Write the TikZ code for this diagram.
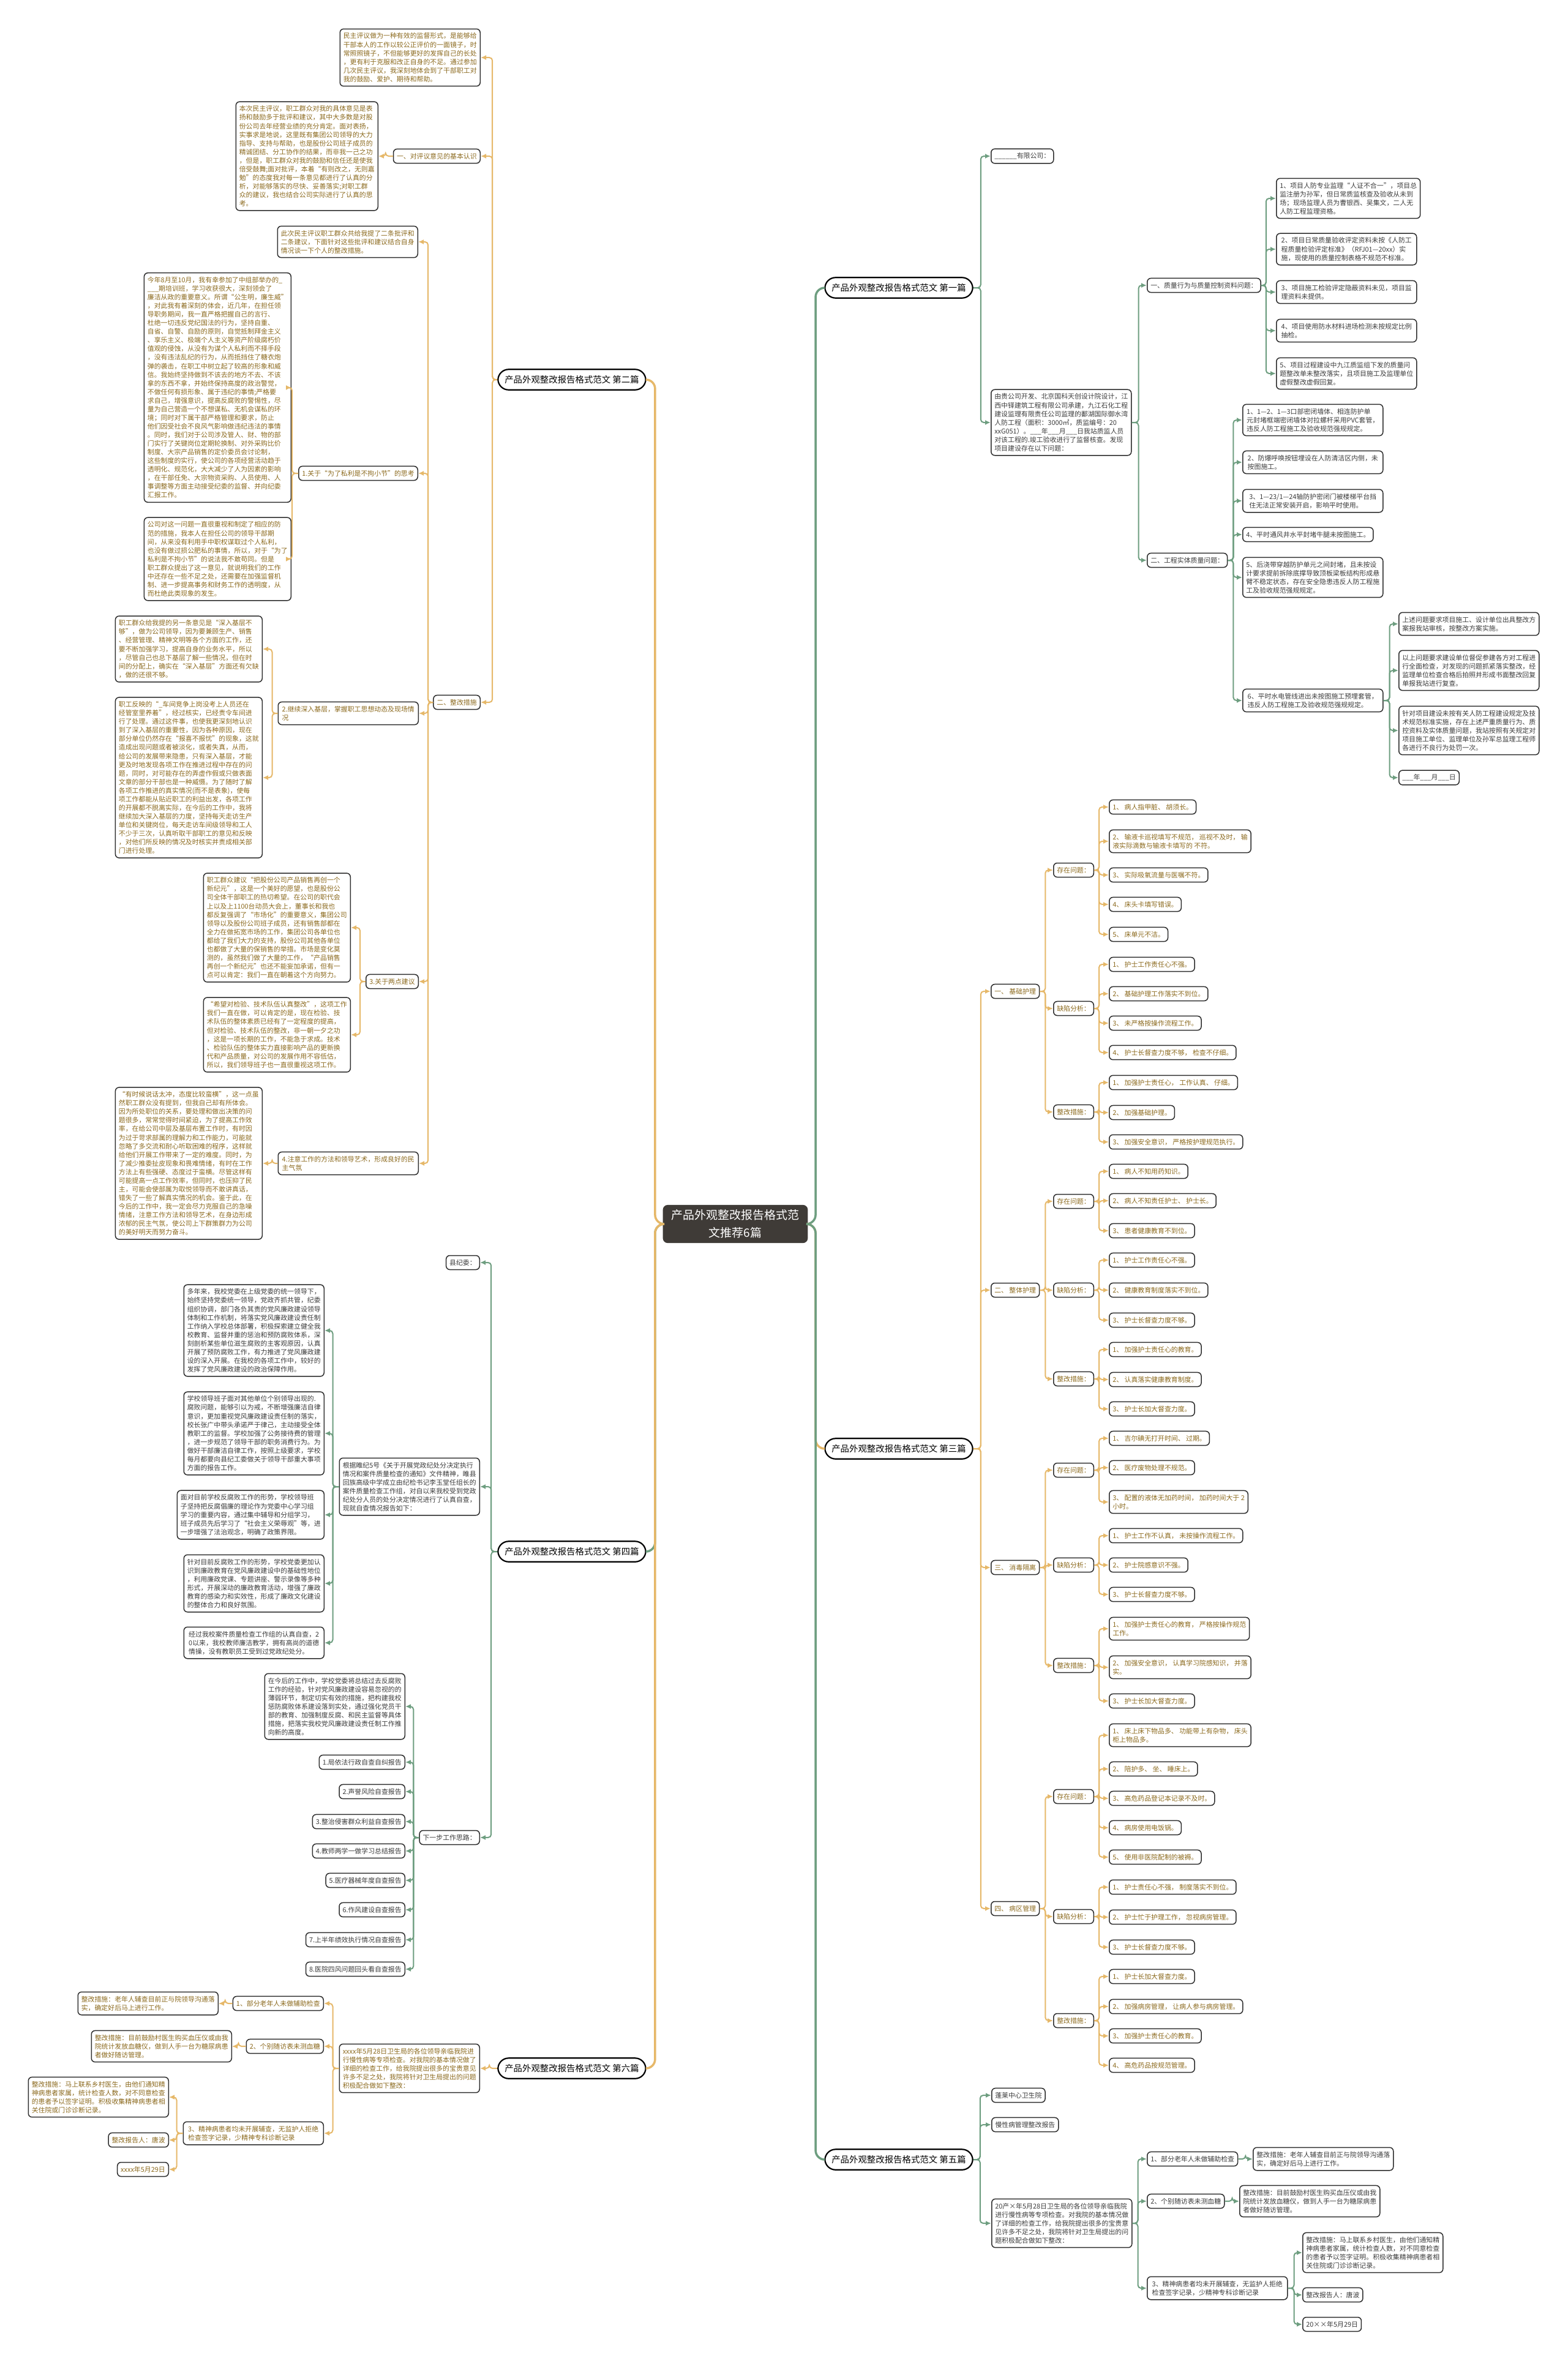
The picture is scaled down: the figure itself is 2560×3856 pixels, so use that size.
\documentclass[tikz,border=0pt]{standalone}
\usepackage{fontspec}
\setmainfont{Noto Sans CJK SC}
\usetikzlibrary{arrows.meta}
\definecolor{goldline}{HTML}{E6B869}
\definecolor{greenline}{HTML}{6E9E80}
\definecolor{goldtext}{HTML}{8C6A1E}
\definecolor{darktext}{HTML}{3C3C3C}
\definecolor{boxline}{HTML}{2E2E2E}
\definecolor{hubfill}{HTML}{3F3B37}
\newcommand\bodyfont{\fontsize{3.1pt}{4pt}\selectfont}
% parent -> child, tree growing to the left / to the right
\newcommand\linkl[4]{\draw[#1] (#2.west) -- ++(-#3,0) |- (#4.east);}
\newcommand\linkr[4]{\draw[#1] (#2.east) -- ++(#3,0) |- (#4.west);}

\begin{document}
\begin{tikzpicture}[x=0.1mm, y=-0.1mm,
    box/.style={draw=boxline, line width=0.15mm, fill=white, rounded corners=0.6mm, inner xsep=0.55mm, inner ysep=0.65mm, font=\bodyfont, align=left},
    para/.style={box, minimum width=22.9mm},
    tg/.style={text=goldtext},
    tk/.style={text=darktext},
    pill/.style={draw=black, line width=0.22mm, fill=white, rounded corners=1.75mm, inner xsep=1.1mm, inner ysep=1mm, font=\fontsize{4.1pt}{5pt}\selectfont},
    hub/.style={fill=hubfill, rounded corners=0.8mm, text=white, align=center, inner xsep=1.4mm, inner ysep=0.8mm, font=\fontsize{5.4pt}{8.2pt}\selectfont},
    gl/.style={draw=goldline, line width=0.2mm, rounded corners=0.5mm, -{Latex[length=0.9mm,width=0.8mm]}},
    kl/.style={draw=greenline, line width=0.2mm, rounded corners=0.5mm, -{Latex[length=0.9mm,width=0.8mm]}},
    gc/.style={draw=goldline, line width=0.35mm, rounded corners=1.5mm},
    kc/.style={draw=greenline, line width=0.35mm, rounded corners=1.5mm}]
  \fill[white] (0,0) rectangle (2560,3856);
  \useasboundingbox (0,0) rectangle (2560,3856);

  \node[hub] (hub) at (1201,1999) {产品外观整改报告格式范\\文推荐6篇};

  % ---- 第二篇 ----
  \node[pill] (p2) at (934,620) {产品外观整改报告格式范文 第二篇};
  \node[para,tg,anchor=east] (a1) at (785,94) {民主评议做为一种有效的监督形式，是能够给\\干部本人的工作以较公正评价的一面镜子，时\\常照照镜子，不但能够更好的发挥自己的长处\\，更有利于克服和改正自身的不足。通过参加\\几次民主评议，我深刻地体会到了干部职工对\\我的鼓励、爱护、期待和帮助。};
  \node[box,tg,anchor=east] (a2) at (785,255) {一、对评议意见的基本认识};
  \node[para,tg,anchor=east] (a21) at (618,255) {本次民主评议，职工群众对我的具体意见是表\\扬和鼓励多于批评和建议，其中大多数是对股\\份公司去年经营业绩的充分肯定。面对表扬，\\实事求是地说，这里既有集团公司领导的大力\\指导、支持与帮助，也是股份公司班子成员的\\精诚团结、分工协作的结果，而非我一己之功\\，但是，职工群众对我的鼓励和信任还是使我\\倍受鼓舞;面对批评，本着“有则改之，无则嘉\\勉”的态度我对每一条意见都进行了认真的分\\析，对能够落实的尽快、妥善落实;对职工群\\众的建议，我也结合公司实际进行了认真的思\\考。};
  \node[box,tg,anchor=east] (a3) at (785,1147) {二、整改措施};
  \node[para,tg,anchor=east] (a31) at (683,395) {此次民主评议职工群众共给我提了二条批评和\\二条建议，下面针对这些批评和建议结合自身\\情况谈一下个人的整改措施。};
  \node[box,tg,anchor=east] (a32) at (683,773) {1.关于“为了私利是不拘小节”的思考};
  \node[para,tg,anchor=east] (a321) at (476,633) {今年8月至10月，我有幸参加了中组部举办的\_\\\_\_\_期培训班，学习收获很大，深刻领会了\\廉洁从政的重要意义。所谓“公生明，廉生威”\\，对此我有着深刻的体会，近几年，在担任领\\导职务期间，我一直严格把握自己的言行、\\杜绝一切违反党纪国法的行为，坚持自重、\\自省、自警、自励的原则，自觉抵制拜金主义\\、享乐主义、极端个人主义等资产阶级腐朽价\\值观的侵蚀，从没有为谋个人私利而不择手段\\，没有违法乱纪的行为，从而抵挡住了糖衣炮\\弹的袭击，在职工中树立起了较高的形象和威\\信。我始终坚持做到不该去的地方不去、不该\\拿的东西不拿，并始终保持高度的政治警觉，\\不做任何有损形象、属于违纪的事情;严格要\\求自己，增强意识，提高反腐败的警惕性，尽\\量为自己营造一个不想谋私、无机会谋私的环\\境；同时对下属干部严格管理和要求，防止\\他们因受社会不良风气影响做违纪违法的事情\\。同时，我们对于公司涉及管人、财、物的部\\门实行了关键岗位定期轮换制、对外采购比价\\制度、大宗产品销售的定价委员会讨论制，\\这些制度的实行，使公司的各项经营活动趋于\\透明化、规范化，大大减少了人为因素的影响\\，在干部任免、大宗物资采购、人员使用、人\\事调整等方面主动接受纪委的监督、并向纪委\\汇报工作。};
  \node[para,tg,anchor=east] (a322) at (476,913) {公司对这一问题一直很重视和制定了相应的防\\范的措施，我本人在担任公司的领导干部期\\间，从来没有利用手中职权谋取过个人私利，\\也没有做过损公肥私的事情，所以，对于“为了\\私利是不拘小节”的说法我不敢苟同。但是\\职工群众提出了这一意见，就说明我们的工作\\中还存在一些不足之处，还需要在加强监督机\\制、进一步提高事务和财务工作的透明度，从\\而杜绝此类现象的发生。};
  \node[para,tg,anchor=east] (a33) at (684,1165) {2.继续深入基层，掌握职工思想动态及现场情\\况};
  \node[para,tg,anchor=east] (a331) at (429,1060) {职工群众给我提的另一条意见是“深入基层不\\够”，做为公司领导，因为要兼顾生产、销售\\、经营管理、精神文明等各个方面的工作，还\\要不断加强学习，提高自身的业务水平，所以\\，尽管自己也总下基层了解一些情况，但在时\\间的分配上，确实在“深入基层”方面还有欠缺\\，做的还很不够。};
  \node[para,tg,anchor=east] (a332) at (429,1270) {职工反映的“\_车间竞争上岗没考上人员还在\\经管室里养着”，经过核实，已经责令车间进\\行了处理。通过这件事，也使我更深刻地认识\\到了深入基层的重要性，因为各种原因，现在\\部分单位仍然存在“报喜不报忧”的现象，这就\\造成出现问题或者被淡化，或者失真，从而，\\给公司的发展带来隐患，只有深入基层，才能\\更及时地发现各项工作在推进过程中存在的问\\题，同时，对可能存在的弄虚作假或只做表面\\文章的部分干部也是一种威慑。为了随时了解\\各项工作推进的真实情况(而不是表象)，使每\\项工作都能从贴近职工的利益出发，各项工作\\的开展都不脱离实际，在今后的工作中，我将\\继续加大深入基层的力度，坚持每天走访生产\\单位和关键岗位，每天走访车间级领导和工人\\不少于三次，认真听取干部职工的意见和反映\\，对他们所反映的情况及时核实并责成相关部\\门进行处理。};
  \node[box,tg,anchor=east] (a34) at (684,1603) {3.关于两点建议};
  \node[para,tg,anchor=east] (a341) at (573,1515) {职工群众建议“把股份公司产品销售再创一个\\新纪元”，这是一个美好的愿望，也是股份公\\司全体干部职工的热切希望。在公司的职代会\\上以及上1100台动员大会上，董事长和我也\\都反复强调了“市场化”的重要意义，集团公司\\领导以及股份公司班子成员，还有销售部都在\\全力在做拓宽市场的工作，集团公司各单位也\\都给了我们大力的支持，股份公司其他各单位\\也都做了大量的保销售的举措。市场是变化莫\\测的，虽然我们做了大量的工作，“产品销售\\再创一个新纪元”也还不能妄加承诺，但有一\\点可以肯定：我们一直在朝着这个方向努力。};
  \node[para,tg,anchor=east] (a342) at (573,1690) {“希望对检验、技术队伍认真整改”，这项工作\\我们一直在做，可以肯定的是，现在检验、技\\术队伍的整体素质已经有了一定程度的提高，\\但对检验、技术队伍的整改，非一朝一夕之功\\，这是一项长期的工作，不能急于求成。技术\\、检验队伍的整体实力直接影响产品的更新换\\代和产品质量，对公司的发展作用不容低估，\\所以，我们领导班子也一直很重视这项工作。};
  \node[para,tg,anchor=east] (a35) at (684,1900) {4.注意工作的方法和领导艺术，形成良好的民\\主气氛};
  \node[para,tg,anchor=east] (a351) at (429,1900) {“有时候说话太冲，态度比较蛮横”，这一点虽\\然职工群众没有提到，但我自己却有所体会。\\因为所处职位的关系，要处理和做出决策的问\\题很多，常常觉得时间紧迫，为了提高工作效\\率，在给公司中层及基层布置工作时，有时因\\为过于苛求部属的理解力和工作能力，可能就\\忽略了多交流和耐心听取困难的程序，这样就\\给他们开展工作带来了一定的难度。同时，为\\了减少推委扯皮现象和畏难情绪，有时在工作\\方法上有些强硬、态度过于蛮横。尽管这样有\\可能提高一点工作效率，但同时，也压抑了民\\主，可能会使部属为取悦领导而不敢讲真话，\\错失了一些了解真实情况的机会。鉴于此，在\\今后的工作中，我一定会尽力克服自己的急噪\\情绪，注意工作方法和领导艺术，在身边形成\\浓郁的民主气氛，使公司上下群策群力为公司\\的美好明天而努力奋斗。};

  \foreach \c in {a1,a2,a3} \linkl{gl}{p2}{8}{\c};
  \linkl{gl}{a2}{12}{a21};
  \foreach \c in {a31,a32,a33,a34,a35} \linkl{gl}{a3}{8}{\c};
  \foreach \c in {a321,a322} \linkl{gl}{a32}{10}{\c};
  \foreach \c in {a331,a332} \linkl{gl}{a33}{9}{\c};
  \foreach \c in {a341,a342} \linkl{gl}{a34}{9}{\c};
  \linkl{gl}{a35}{9}{a351};

  % ---- 第四篇 ----
  \node[pill] (p4) at (934,2534) {产品外观整改报告格式范文 第四篇};
  \node[box,tk,anchor=east] (b1) at (784,2062) {县纪委：};
  \node[para,tk,anchor=east] (b2) at (784,2428) {根据睢纪5号《关于开展党政纪处分决定执行\\情况和案件质量检查的通知》文件精神，睢县\\回族高级中学成立由纪检书记李玉堂任组长的\\案件质量检查工作组，对自以来我校受到党政\\纪处分人员的处分决定情况进行了认真自查，\\现就自查情况报告如下：};
  \node[para,tk,anchor=east] (b21) at (530,2173) {多年来，我校党委在上级党委的统一领导下，\\始终坚持党委统一领导，党政齐抓共管，纪委\\组织协调，部门各负其责的党风廉政建设领导\\体制和工作机制，将落实党风廉政建设责任制\\工作纳入学校总体部署，积极探索建立健全我\\校教育、监督并重的惩治和预防腐败体系，深\\刻剖析某些单位滋生腐败的主客观原因，认真\\开展了预防腐败工作，有力推进了党风廉政建\\设的深入开展。在我校的各项工作中，较好的\\发挥了党风廉政建设的政治保障作用。};
  \node[para,tk,anchor=east] (b22) at (530,2341) {学校领导班子面对其他单位个别领导出现的.\\腐败问题，能够引以为戒，不断增强廉洁自律\\意识，更加重视党风廉政建设责任制的落实，\\校长张广中带头承诺严于律己，主动接受全体\\教职工的监督。学校加强了公务接待费的管理\\，进一步规范了领导干部的职务消费行为。为\\做好干部廉洁自律工作，按照上级要求，学校\\每月都要向县纪工委做关于领导干部重大事项\\方面的报告工作。};
  \node[para,tk,anchor=east] (b23) at (530,2474) {面对目前学校反腐败工作的形势，学校领导班\\子坚持把反腐倡廉的理论作为党委中心学习组\\学习的重要内容，通过集中辅导和分组学习，\\班子成员先后学习了“社会主义荣辱观”等，进\\一步增强了法治观念，明确了政策界限。};
  \node[para,tk,anchor=east] (b24) at (530,2586) {针对目前反腐败工作的形势，学校党委更加认\\识到廉政教育在党风廉政建设中的基础性地位\\，利用廉政党课、专题讲座、警示录像等多种\\形式，开展深动的廉政教育活动，增强了廉政\\教育的感染力和实效性，形成了廉政文化建设\\的整体合力和良好氛围。};
  \node[para,tk,anchor=east] (b25) at (530,2683) {经过我校案件质量检查工作组的认真自查，2\\0以来，我校教师廉洁教学，拥有高尚的道德\\情操，没有教职员工受到过党政纪处分。};
  \node[box,tk,anchor=east] (b3) at (784,3001) {下一步工作思路：};
  \node[para,tk,anchor=east] (b31) at (662,2787) {在今后的工作中，学校党委将总结过去反腐败\\工作的经验，针对党风廉政建设容易忽视的的\\薄弱环节，制定切实有效的措施，把构建我校\\惩防腐败体系建设落到实处，通过强化党员干\\部的教育、加强制度反腐、和民主监督等具体\\措施，把落实我校党风廉政建设责任制工作推\\向新的高度。};
  \foreach \n/\y/\txt in {b32/2878/1.局依法行政自查自纠报告, b33/2926/2.声誉风险自查报告, b34/2975/3.整治侵害群众利益自查报告, b35/3023/4.教师两学一做学习总结报告, b36/3071/5.医疗器械年度自查报告, b37/3119/6.作风建设自查报告, b38/3168/7.上半年绩效执行情况自查报告, b39/3216/8.医院四风问题回头看自查报告}
    \node[box,tk,anchor=east] (\n) at (662,\y) {\txt};

  \foreach \c in {b1,b2,b3} \linkl{kl}{p4}{10}{\c};
  \foreach \c in {b21,b22,b23,b24,b25} \linkl{kl}{b2}{10}{\c};
  \foreach \c in {b31,b32,b33,b34,b35,b36,b37,b38,b39} \linkl{kl}{b3}{9}{\c};

  % ---- 第六篇 ----
  \node[pill] (p6) at (934,3378) {产品外观整改报告格式范文 第六篇};
  \node[para,tg,anchor=east] (c1) at (784,3378) {xxxx年5月28日卫生局的各位领导亲临我院进\\行慢性病等专项检查。对我院的基本情况做了\\详细的检查工作，给我院提出很多的宝贵意见\\许多不足之处，我院将针对卫生局提出的问题\\积极配合做如下整改：};
  \node[box,tg,anchor=east] (c11) at (529,3272) {1、部分老年人未做辅助检查};
  \node[para,tg,anchor=east] (c111) at (357,3272) {整改措施：老年人辅查目前正与院领导沟通落\\实，确定好后马上进行工作。};
  \node[box,tg,anchor=east] (c12) at (529,3342) {2、个别随访表未测血糖};
  \node[para,tg,anchor=east] (c121) at (379,3342) {整改措施：目前鼓励村医生购买血压仪或由我\\院统计发放血糖仪，做到人手一台为糖尿病患\\者做好随访管理。};
  \node[para,tg,anchor=east] (c13) at (529,3484) {3、精神病患者均未开展辅查，无监护人拒绝\\检查签字记录，少精神专科诊断记录};
  \node[para,tg,anchor=east] (c131) at (276,3425) {整改措施：马上联系乡村医生，由他们通知精\\神病患者家属，统计检查人数，对不同意检查\\的患者予以签字证明。积极收集精神病患者相\\关住院或门诊诊断记录。};
  \node[box,tg,anchor=east] (c132) at (276,3495) {整改报告人：唐波};
  \node[box,tg,anchor=east] (c133) at (276,3543) {xxxx年5月29日};

  \linkl{gl}{p6}{13}{c1};
  \foreach \c in {c11,c12,c13} \linkl{gl}{c1}{10}{\c};
  \linkl{gl}{c11}{12}{c111};
  \linkl{gl}{c12}{12}{c121};
  \foreach \c in {c131,c132,c133} \linkl{gl}{c13}{10}{\c};

  % ---- 第一篇 ----
  \node[pill] (p1) at (1468,470) {产品外观整改报告格式范文 第一篇};
  \node[box,tk,anchor=west] (d1) at (1618,255) {\_\_\_\_\_\_有限公司：};
  \node[para,tk,anchor=west] (d2) at (1618,690) {由贵公司开发、北京国科天创设计院设计，江\\西中铎建筑工程有限公司承建，九江石化工程\\建设监理有限责任公司监理的鄱湖国际御水湾\\人防工程（面积：3000㎡，质监编号：20\\xxG051）。\_\_\_年\_\_\_月\_\_\_日我站质监人员\\对该工程的.竣工验收进行了监督核查。发现\\项目建设存在以下问题：};
  \node[box,tk,anchor=west] (d21) at (1873,466) {一、质量行为与质量控制资料问题：};
  \node[para,tk,anchor=west] (d211) at (2084,324) {1、项目人防专业监理“人证不合一”，项目总\\监注册为孙军，但日常质监核查及验收从未到\\场；现场监理人员为曹银西、吴集文，二人无\\人防工程监理资格。};
  \node[para,tk,anchor=west] (d212) at (2084,407) {2、项目日常质量验收评定资料未按《人防工\\程质量检验评定标准》（RFJ01—20xx）实\\施，现使用的质量控制表格不规范不标准。};
  \node[para,tk,anchor=west] (d213) at (2084,477) {3、项目施工检验评定隐蔽资料未见，项目监\\理资料未提供。};
  \node[para,tk,anchor=west] (d214) at (2084,540) {4、项目使用防水材料进场检测未按规定比例\\抽检。};
  \node[para,tk,anchor=west] (d215) at (2084,610) {5、项目过程建设中九江质监组下发的质量问\\题整改单未整改落实，且项目施工及监理单位\\虚假整改虚假回复。};
  \node[box,tk,anchor=west] (d22) at (1873,915) {二、工程实体质量问题：};
  \node[para,tk,anchor=west] (d221) at (2029,686) {1、1—2、1—3口部密闭墙体、相连防护单\\元封堵框端密闭墙体对拉螺杆采用PVC套管，\\违反人防工程施工及验收规范强规规定。};
  \node[para,tk,anchor=west] (d222) at (2029,755) {2、防爆呼唤按钮埋设在人防清洁区内侧，未\\按图施工。};
  \node[para,tk,anchor=west] (d223) at (2029,818) {3、1—23/1—24轴防护密闭门被楼梯平台挡\\住无法正常安装开启，影响平时使用。};
  \node[box,tk,anchor=west] (d224) at (2029,873) {4、平时通风井水平封堵牛腿未按图施工。};
  \node[para,tk,anchor=west] (d225) at (2029,943) {5、后浇带穿越防护单元之间封堵，且未按设\\计要求提前拆除底撑导致顶板梁板结构形成悬\\臂不稳定状态，存在安全隐患违反人防工程施\\工及验收规范强规规定。};
  \node[para,tk,anchor=west] (d226) at (2029,1144) {6、平时水电管线进出未按图施工预埋套管，\\违反人防工程施工及验收规范强规规定。};
  \node[para,tk,anchor=west] (d2261) at (2284,1019) {上述问题要求项目施工、设计单位出具整改方\\案报我站审核，按整改方案实施。};
  \node[para,tk,anchor=west] (d2262) at (2284,1095) {以上问题要求建设单位督促参建各方对工程进\\行全面检查，对发现的问题抓紧落实整改，经\\监理单位检查合格后拍照并形成书面整改回复\\单报我站进行复查。};
  \node[para,tk,anchor=west] (d2263) at (2284,1193) {针对项目建设未按有关人防工程建设规定及技\\术规范标准实施，存在上述严重质量行为、质\\控资料及实体质量问题，我站按照有关规定对\\项目施工单位、监理单位及孙军总监理工程师\\各进行不良行为处罚一次。};
  \node[box,tk,anchor=west] (d2264) at (2284,1270) {\_\_\_年\_\_\_月\_\_\_日};

  \foreach \c in {d1,d2} \linkr{kl}{p1}{12}{\c};
  \foreach \c in {d21,d22} \linkr{kl}{d2}{11}{\c};
  \foreach \c in {d211,d212,d213,d214,d215} \linkr{kl}{d21}{8}{\c};
  \foreach \c in {d221,d222,d223,d224,d225,d226} \linkr{kl}{d22}{9}{\c};
  \foreach \c in {d2261,d2262,d2263,d2264} \linkr{kl}{d226}{10}{\c};

  % ---- 第三篇 ----
  \node[pill] (p3) at (1468,2366) {产品外观整改报告格式范文 第三篇};
  \foreach \n/\y/\txt in {s1/1619/一、 基础护理, s2/2107/二、 整体护理, s3/2560/三、 消毒隔离, s4/3117/四、 病区管理}
    \node[box,tg,anchor=west] (\n) at (1618,\y) {\txt};
  \foreach \n/\y/\txt in {s1a/1421/存在问题：, s1b/1647/缺陷分析：, s1c/1816/整改措施：,
      s2a/1962/存在问题：, s2b/2107/缺陷分析：, s2c/2252/整改措施：,
      s3a/2401/存在问题：, s3b/2556/缺陷分析：, s3c/2720/整改措施：,
      s4a/2934/存在问题：, s4b/3130/缺陷分析：, s4c/3300/整改措施：}
    \node[box,tg,anchor=west] (\n) at (1720,\y) {\txt};
  \foreach \n/\y/\txt in {
      s1a1/1318/{1、 病人指甲脏、 胡须长。},
      s1a2/1374/{2、 输液卡巡视填写不规范， 巡视不及时， 输\\液实际滴数与输液卡填写的 不符。},
      s1a3/1429/{3、 实际吸氧流量与医嘱不符。},
      s1a4/1477/{4、 床头卡填写错误。},
      s1a5/1526/{5、 床单元不洁。},
      s1b1/1575/{1、 护士工作责任心不强。},
      s1b2/1623/{2、 基础护理工作落实不到位。},
      s1b3/1671/{3、 未严格按操作流程工作。},
      s1b4/1719/{4、 护士长督查力度不够， 检查不仔细。},
      s1c1/1768/{1、 加强护士责任心， 工作认真、 仔细。},
      s1c2/1817/{2、 加强基础护理。},
      s1c3/1865/{3、 加强安全意识， 严格按护理规范执行。},
      s2a1/1913/{1、 病人不知用药知识。},
      s2a2/1961/{2、 病人不知责任护士、 护士长。},
      s2a3/2010/{3、 患者健康教育不到位。},
      s2b1/2058/{1、 护士工作责任心不强。},
      s2b2/2107/{2、 健康教育制度落实不到位。},
      s2b3/2156/{3、 护士长督查力度不够。},
      s2c1/2204/{1、 加强护士责任心的教育。},
      s2c2/2253/{2、 认真落实健康教育制度。},
      s2c3/2301/{3、 护士长加大督查力度。},
      s3a1/2349/{1、 吉尔碘无打开时间、 过期。},
      s3a2/2397/{2、 医疗废物处理不规范。},
      s3a3/2453/{3、 配置的液体无加药时间， 加药时间大于 2\\小时。},
      s3b1/2508/{1、 护士工作不认真， 未按操作流程工作。},
      s3b2/2556/{2、 护士院感意识不强。},
      s3b3/2604/{3、 护士长督查力度不够。},
      s3c1/2660/{1、 加强护士责任心的教育， 严格按操作规范\\工作。},
      s3c2/2723/{2、 加强安全意识， 认真学习院感知识， 并落\\实。},
      s3c3/2778/{3、 护士长加大督查力度。},
      s4a1/2834/{1、 床上床下物品多、 功能带上有杂物， 床头\\柜上物品多。},
      s4a2/2889/{2、 陪护多、 坐、 睡床上。},
      s4a3/2937/{3、 高危药品登记本记录不及时。},
      s4a4/2985/{4、 病房使用电饭锅。},
      s4a5/3033/{5、 使用非医院配制的被褥。},
      s4b1/3082/{1、 护士责任心不强， 制度落实不到位。},
      s4b2/3131/{2、 护士忙于护理工作， 忽视病房管理。},
      s4b3/3180/{3、 护士长督查力度不够。},
      s4c1/3228/{1、 护士长加大督查力度。},
      s4c2/3277/{2、 加强病房管理， 让病人参与病房管理。},
      s4c3/3325/{3、 加强护士责任心的教育。},
      s4c4/3373/{4、 高危药品按规范管理。}}
    \node[box,tg,anchor=west] (\n) at (1811,\y) {\txt};

  \foreach \c in {s1,s2,s3,s4} \linkr{gl}{p3}{12}{\c};
  \foreach \p in {s1,s2,s3,s4} \foreach \q in {a,b,c} \linkr{gl}{\p}{9}{\p\q};
  \foreach \p/\k in {s1a/5, s1b/4, s1c/3, s2a/3, s2b/3, s2c/3, s3a/3, s3b/3, s3c/3, s4a/5, s4b/3, s4c/4}
    \foreach \i in {1,...,\k} \linkr{gl}{\p}{8}{\p\i};

  % ---- 第五篇 ----
  \node[pill] (p5) at (1468,3527) {产品外观整改报告格式范文 第五篇};
  \node[box,tk,anchor=west] (f1) at (1619,3422) {蓬莱中心卫生院};
  \node[box,tk,anchor=west] (f2) at (1619,3470) {慢性病管理整改报告};
  \node[para,tk,anchor=west] (f3) at (1619,3631) {20产×年5月28日卫生局的各位领导亲临我院\\进行慢性病等专项检查。对我院的基本情况做\\了详细的检查工作，给我院提出很多的宝贵意\\见许多不足之处，我院将针对卫生局提出的问\\题积极配合做如下整改：};
  \node[box,tk,anchor=west] (f31) at (1873,3526) {1、部分老年人未做辅助检查};
  \node[para,tk,anchor=west] (f311) at (2046,3526) {整改措施：老年人辅查目前正与院领导沟通落\\实，确定好后马上进行工作。};
  \node[box,tk,anchor=west] (f32) at (1873,3595) {2、个别随访表未测血糖};
  \node[para,tk,anchor=west] (f321) at (2024,3595) {整改措施：目前鼓励村医生购买血压仪或由我\\院统计发放血糖仪，做到人手一台为糖尿病患\\者做好随访管理。};
  \node[para,tk,anchor=west] (f33) at (1873,3737) {3、精神病患者均未开展辅查，无监护人拒绝\\检查签字记录，少精神专科诊断记录};
  \node[para,tk,anchor=west] (f331) at (2127,3679) {整改措施：马上联系乡村医生，由他们通知精\\神病患者家属，统计检查人数，对不同意检查\\的患者予以签字证明。积极收集精神病患者相\\关住院或门诊诊断记录。};
  \node[box,tk,anchor=west] (f332) at (2127,3748) {整改报告人：唐波};
  \node[box,tk,anchor=west] (f333) at (2127,3796) {20××年5月29日};

  \foreach \c in {f1,f2,f3} \linkr{kl}{p5}{11}{\c};
  \foreach \c in {f31,f32,f33} \linkr{kl}{f3}{9}{\c};
  \linkr{kl}{f31}{12}{f311};
  \linkr{kl}{f32}{12}{f321};
  \foreach \c in {f331,f332,f333} \linkr{kl}{f33}{10}{\c};

  % ---- hub to the six branches ----
  \draw[gc] (hub.west) -- ++(-12,0) |- (p2.east);
  \draw[kc] (hub.west) -- ++(-12,0) |- (p4.east);
  \draw[gc] (hub.west) -- ++(-12,0) |- (p6.east);
  \draw[kc] (hub.east) -- ++(12,0) |- (p1.west);
  \draw[gc] (hub.east) -- ++(12,0) |- (p3.west);
  \draw[kc] (hub.east) -- ++(12,0) |- (p5.west);
\end{tikzpicture}
\end{document}
